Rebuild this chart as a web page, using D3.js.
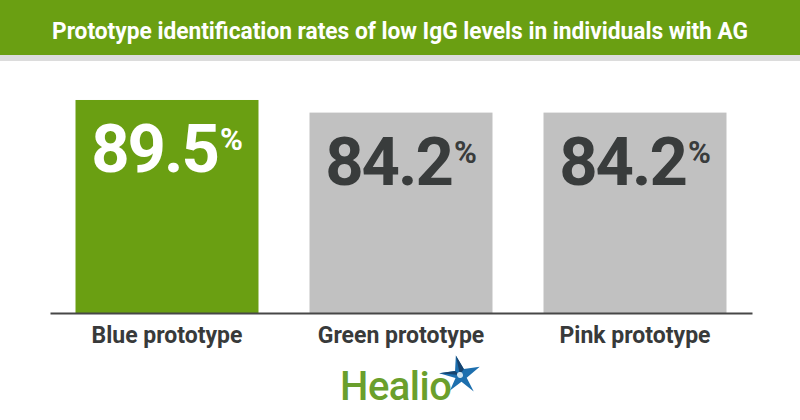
<!DOCTYPE html>
<html lang="en">
<head>
<meta charset="UTF-8">
<title>Prototype identification rates</title>
<script src="https://d3js.org/d3.v7.min.js"></script>
<style>
  body { margin: 0; background: #fff; }
  .chart text { font-family: Roboto, "Noto Sans", sans-serif; }
  .axis--x text { font-size: 23px; font-weight: 700; fill: #383a3a; }
  .axis--x path { stroke: #474747; stroke-width: 2; }
</style>
</head>
<body>
<svg class="chart"></svg>
<script>
// chart data
const title = "Prototype identification rates of low IgG levels in individuals with AG";
const categories = ["Blue prototype", "Green prototype", "Pink prototype"];
const values = [89.5, 84.2, 84.2];

const width = 800, height = 420;
const green = "#6a9f12";

const svg = d3.select(".chart")
    .attr("width", width)
    .attr("height", height);

// header band
svg.append("rect").attr("x", 0).attr("y", 0).attr("width", width).attr("height", 55).attr("fill", green);
svg.append("rect").attr("x", 0).attr("y", 55).attr("width", width).attr("height", 6).attr("fill", "#dcdcdc");
svg.append("text")
    .attr("x", width / 2).attr("y", 39)
    .attr("text-anchor", "middle")
    .attr("fill", "#fff")
    .attr("font-size", 24).attr("font-weight", 700)
    .attr("textLength", 696).attr("lengthAdjust", "spacingAndGlyphs")
    .text(title);

let x = d3.scaleBand()
    .domain(categories)
    .range([50, 752])
    .paddingInner(0.218)
    .paddingOuter(0.109);

let y = d3.scaleLinear()
    .domain([0, 100])
    .range([313, 75]);

let color = d3.scaleOrdinal()
    .domain(categories)
    .range([green, "#c1c1c1", "#c1c1c1"]);
let labelColor = d3.scaleOrdinal()
    .domain(categories)
    .range(["#fff", "#393c3c", "#393c3c"]);

const data = categories.map((c, i) => ({ cat: c, value: values[i] }));

svg.selectAll(".bar")
    .data(data).enter()
    .append("rect")
    .attr("class", "bar")
    .attr("x", d => x(d.cat))
    .attr("y", d => y(d.value))
    .attr("width", x.bandwidth())
    .attr("height", d => y(0) - y(d.value))
    .attr("fill", d => color(d.cat));

let labels = svg.selectAll(".val")
    .data(data).enter()
    .append("text")
    .attr("class", "val")
    .attr("x", d => x(d.cat) + x.bandwidth() / 2)
    .attr("y", d => y(d.value) + 72)
    .attr("text-anchor", "middle")
    .attr("fill", d => labelColor(d.cat))
    .attr("font-weight", 700);
labels.append("tspan")
    .attr("font-size", 67)
    .attr("letter-spacing", -2)
    .text(d => d.value.toFixed(1));
labels.append("tspan")
    .attr("font-size", 31)
    .attr("dy", -22)
    .attr("dx", 2)
    .text("%");

svg.append("g")
    .attr("class", "axis axis--x")
    .attr("transform", "translate(0," + y(0) + ")")
    .call(d3.axisBottom(x).tickSize(0).tickSizeOuter(0).tickPadding(14))
    .selectAll("text").attr("font-family", "Roboto, sans-serif");

// Healio logo
const logo = svg.append("g").attr("transform", "translate(340,400)");
logo.append("text")
    .attr("x", 0).attr("y", 0)
    .attr("font-family", "'Open Sans', sans-serif")
    .attr("font-size", 40)
    .attr("font-weight", 500)
    .attr("fill", "#6a9f2c")
    .attr("letter-spacing", -0.5)
    .text("Healio");
const star = logo.append("g").attr("transform", "translate(120,-25) rotate(-12)");
star.append("path")
    .attr("d", "M0,-20 L5,-5 L21,-4 L6,4 L10,19 L0,7 L-13,13 L-5,2 L-20,-6 L-4,-5 Z")
    .attr("fill", "#1d6fae");
star.append("path")
    .attr("d", "M0,-20 L5,-5 L0,0 Z M-20,-6 L-4,-5 L0,0 Z")
    .attr("fill", "#16436e");
star.append("circle").attr("r", 3).attr("fill", "#cfe3ef");
</script>
</body>
</html>
